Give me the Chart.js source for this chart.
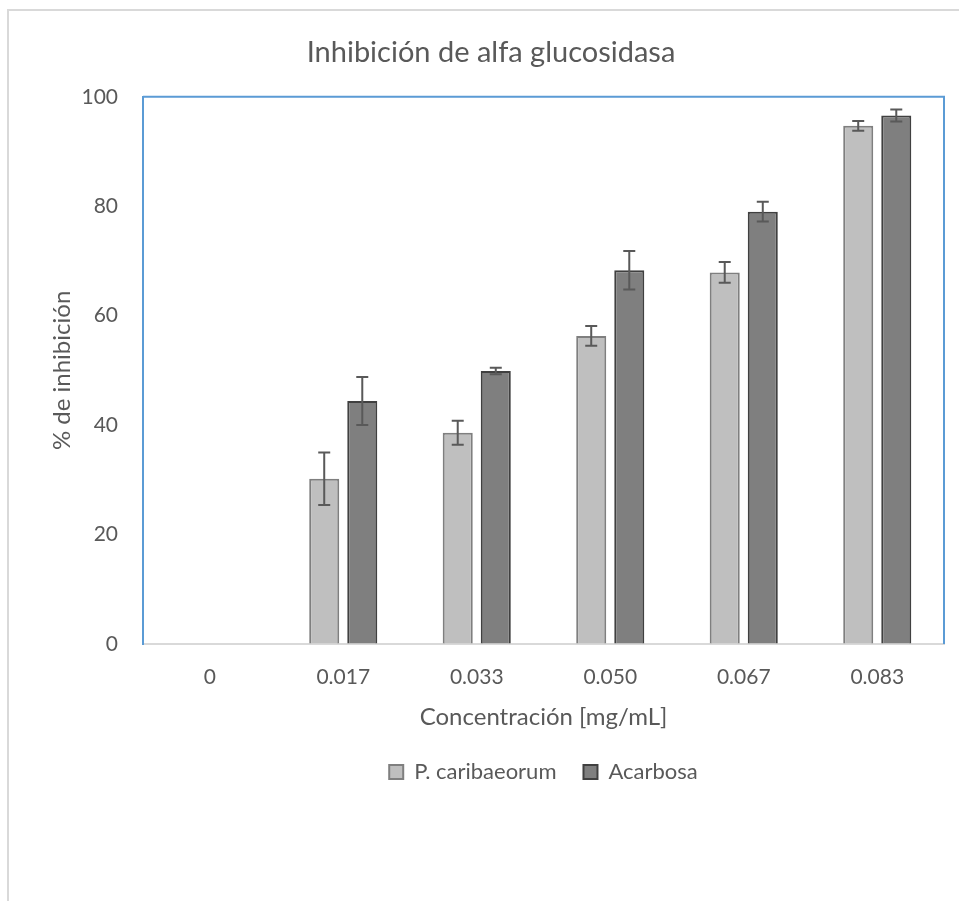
<!DOCTYPE html>
<html>
<head>
<meta charset="utf-8">
<script src="https://cdn.jsdelivr.net/npm/chart.js@4/dist/chart.umd.min.js"></script>
<style>
  html, body { margin: 0; padding: 0; background: #fff; overflow: hidden; }
  #frame { position: absolute; left: 7px; top: 9px; width: 1000px; height: 1000px; border: 2px solid #d9d9d9; box-sizing: border-box; }
  #wrap { position: absolute; left: 0; top: 0; width: 959px; height: 901px; }
</style>
</head>
<body>
<div id="frame"></div>
<div id="wrap"><canvas id="chart" width="959" height="901"></canvas></div>
<script>
const categories = ['0', '0.017', '0.033', '0.050', '0.067', '0.083'];
const caribaeorum = [null, 30.2, 38.6, 56.3, 67.9, 94.7];
const caribaeorumErr = [null, 4.8, 2.2, 1.8, 1.9, 0.9];
const acarbosa = [null, 44.4, 49.9, 68.3, 79.0, 96.6];
const acarbosaErr = [null, 4.4, 0.6, 3.5, 1.8, 1.1];
const yTicks = [0, 20, 40, 60, 80, 100];

const textColor = '#595959';
const fontFamily = 'Lato, "Open Sans", sans-serif';

// error bars, drawn from the value scale
const errorBars = {
    id: 'errorBars',
    afterDatasetsDraw(chart) {
        const ctx = chart.ctx;
        const yScale = chart.scales.y;
        ctx.save();
        ctx.strokeStyle = '#595959';
        ctx.lineWidth = 2;
        chart.data.datasets.forEach((ds, di) => {
            const meta = chart.getDatasetMeta(di);
            meta.data.forEach((bar, i) => {
                const v = ds.data[i];
                const e = ds.errors[i];
                if (v == null || e == null) return;
                const x = bar.x;
                const yTop = yScale.getPixelForValue(v + e);
                const yBot = yScale.getPixelForValue(v - e);
                ctx.beginPath();
                ctx.moveTo(x, yTop); ctx.lineTo(x, yBot);
                ctx.moveTo(x - 6, yTop); ctx.lineTo(x + 6, yTop);
                ctx.moveTo(x - 6, yBot); ctx.lineTo(x + 6, yBot);
                ctx.stroke();
            });
        });
        ctx.restore();
    }
};

// blue outline on top and right of the plot area
const plotFrame = {
    id: 'plotFrame',
    afterDraw(chart) {
        const { ctx, chartArea: a } = chart;
        ctx.save();
        ctx.strokeStyle = '#5b9bd5';
        ctx.lineWidth = 2;
        ctx.beginPath();
        ctx.moveTo(a.left, a.top);
        ctx.lineTo(a.right, a.top);
        ctx.lineTo(a.right, a.bottom);
        ctx.stroke();
        ctx.restore();
    }
};

new Chart(document.getElementById('chart'), {
    type: 'bar',
    data: {
        labels: categories,
        datasets: [
            {
                label: 'P. caribaeorum',
                data: caribaeorum,
                errors: caribaeorumErr,
                backgroundColor: '#bfbfbf',
                borderColor: '#7f7f7f',
                borderWidth: 2
            },
            {
                label: 'Acarbosa',
                data: acarbosa,
                errors: acarbosaErr,
                backgroundColor: '#7f7f7f',
                borderColor: '#404040',
                borderWidth: 2
            }
        ]
    },
    options: {
        responsive: false,
        animation: false,
        categoryPercentage: 0.57,
        barPercentage: 0.79,
        layout: { padding: { left: 38, right: 15, top: 0, bottom: 108 } },
        plugins: {
            title: {
                display: true,
                text: 'Inhibición de alfa glucosidasa',
                color: textColor,
                font: { family: fontFamily, size: 29, weight: 'normal', lineHeight: 1.2 },
                padding: { top: 35, bottom: 27 }
            },
            legend: {
                position: 'bottom',
                fullSize: false,
                labels: {
                    color: textColor,
                    font: { family: fontFamily, size: 22 },
                    boxWidth: 14,
                    boxHeight: 14,
                    padding: 27
                }
            },
            tooltip: { enabled: false }
        },
        scales: {
            x: {
                afterFit(scale) { scale.height = 90; },
                grid: { display: true, drawOnChartArea: false, drawTicks: false },
                border: { display: true, color: '#d9d9d9', width: 2 },
                ticks: { color: textColor, font: { family: fontFamily, size: 21 }, padding: 21 },
                title: {
                    display: true,
                    text: 'Concentración [mg/mL]',
                    color: textColor,
                    font: { family: fontFamily, size: 24, lineHeight: 1.2 },
                    padding: { top: 0, bottom: 2 }
                }
            },
            y: {
                min: 0,
                max: 100,
                afterFit(scale) { scale.width = 105; },
                afterBuildTicks(scale) { scale.ticks = yTicks.map(v => ({ value: v })); },
                grid: { display: true, drawOnChartArea: false, drawTicks: false },
                border: { display: true, color: '#5b9bd5', width: 2 },
                ticks: { color: textColor, font: { family: fontFamily, size: 21 }, padding: 25 },
                title: {
                    display: true,
                    text: '% de inhibición',
                    color: textColor,
                    font: { family: fontFamily, size: 24, lineHeight: 1.2 },
                    padding: { top: 10, bottom: 0 }
                }
            }
        }
    },
    plugins: [errorBars, plotFrame]
});
</script>
</body>
</html>
